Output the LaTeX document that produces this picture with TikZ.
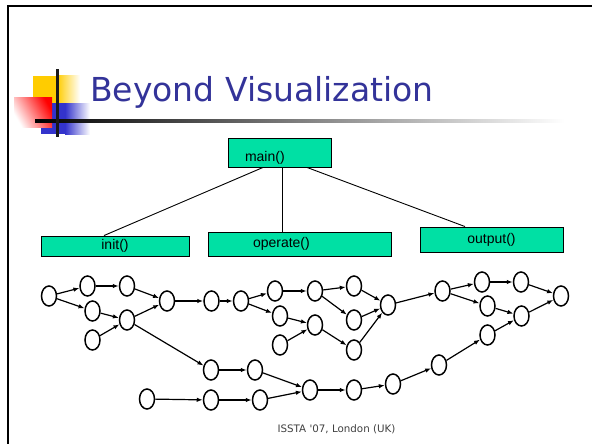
\documentclass[tikz,border=0pt]{standalone}
\usepackage{fontspec}
\setmainfont{Liberation Sans}
\newfontfamily\headfont{DejaVu Sans}
\usetikzlibrary{positioning,arrows.meta,shapes.geometric}
\definecolor{boxgreen}{HTML}{00E0A4}
\definecolor{titleblue}{HTML}{333399}
\definecolor{logoyellow}{HTML}{FFCC00}
\definecolor{logoblue}{HTML}{3333CC}
\definecolor{logored}{HTML}{FF0000}
\definecolor{foottext}{HTML}{404040}

\begin{document}
\begin{tikzpicture}[x=1pt,y=-1pt,
    every node/.style={font=\fontsize{14}{16}\selectfont},
    fn/.style={
      draw=black, fill=boxgreen,
      line width=0.9pt,
      inner sep=0pt
    },
    vtx/.style={
      ellipse, draw=black,
      line width=1.5pt,
      minimum width=15pt, minimum height=20pt,
      inner sep=0pt
    },
    flow/.style={line width=1.2pt, -{Latex[length=6pt,width=4.5pt]}},
    call/.style={line width=0.9pt}
  ]
  \useasboundingbox (0,0) rectangle (592,444);
  \draw[line width=2pt] (8,444) -- (8,6) -- (592,6);

  % logo and heading
  \fill[logoyellow] (33,76) rectangle (57,121);
  \shade[left color=logoyellow, right color=white] (57,76) rectangle (80,121);
  \fill[logoblue] (41,103) rectangle (65,134);
  \shade[left color=logoblue, right color=white] (65,103) rectangle (90,134);
  \shade[top color=logored, bottom color=white, shading angle=-60] (14,98) rectangle (52,127);
  \shade[left color=black, right color=white] (35,119.5) rectangle (565,122.5);
  \fill[black!90] (55.5,69) rectangle (58.5,137);
  \node[anchor=base west, inner sep=0pt, text=titleblue,
    font=\headfont\fontsize{33}{36}\selectfont] (title) at (90,101) {Beyond Visualization};

  % call tree
  \node[fn, minimum width=103pt, text width=69pt, align=left, inner xsep=17pt,
    text height=23pt, text depth=6pt] (main) at (279.5,152.5) {main()};
  \node[fn, minimum width=148pt, minimum height=20pt] (init) at (115,246) {init()};
  \node[fn, minimum width=183pt, minimum height=24pt, text width=93pt, align=left,
    inner xsep=45pt] (operate) at (299.5,244) {operate()};
  \node[fn, minimum width=143pt, minimum height=25pt] (output) at (491.5,239.5) {output()};
  \draw[call] ([xshift=-16.5pt]main.south) -- ([xshift=-11pt]init.north);
  \draw[call] ([xshift=2.5pt]main.south) -- ([xshift=2.5pt]main.south |- operate.north);
  \draw[call] ([xshift=27.5pt]main.south) -- ([xshift=-26.5pt]output.north);

  % control flow graph
  \foreach \n/\x/\y in {i1/49/296, i2/87.5/286, i3/92.5/311, i4/92.5/340,
      i5/127/286, i6/127/320, i7/167/301,
      o1/211.5/301, o2/241/301, o3/275/291, o4/280/316, o5/280/345,
      o6/315/291, o7/315/325, o8/354/286, o9/354/320, o10/354/350, o11/388/305,
      u1/442.5/291, u2/482/282, u3/487.5/306, u4/487.5/335,
      u5/521/282, u6/521.5/316, u7/561/296,
      b1/211/370, b2/255/370, c1/147/399, c2/211/400, c3/260/400,
      b3/310/390, b4/354/390, b5/393/384, b6/439/365}
    \node[vtx] (\n) at (\x,\y) {};
  \foreach \s/\t in {i1/i2, i1/i3, i2/i5, i3/i6, i4/i6, i5/i7, i6/i7, i6/b1,
      i7/o1, o1/o2, o2/o3, o2/o4, o3/o6, o4/o7, o5/o7, o6/o8, o6/o9, o7/o10,
      o8/o11, o9/o11, o10/o11, o11/u1, u1/u2, u1/u3, u2/u5, u3/u6, u4/u6,
      u5/u7, u6/u7, b1/b2, b2/b3, c1/c2, c2/c3, c3/b3, b3/b4, b4/b5, b5/b6, b6/u4}
    \draw[flow] (\s) -- (\t);

  \node[font=\headfont\fontsize{10.3}{12}\selectfont, text=foottext] (foot) at (336.5,429) {ISSTA '07, London (UK)};
\end{tikzpicture}
\end{document}
